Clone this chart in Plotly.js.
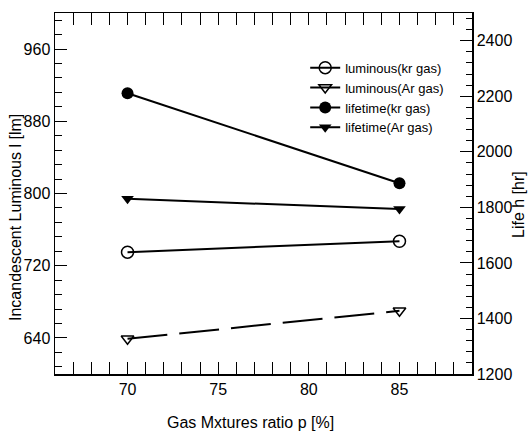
<!DOCTYPE html>
<html>
<head>
<meta charset="utf-8">
<script src="https://cdn.plot.ly/plotly-3.0.1.min.js"></script>
<style>html,body{margin:0;padding:0;background:#fff;}#chart{width:530px;height:434px;}</style>
</head>
<body>
<div id="chart"></div>
<script>
const ratio = [70, 85];
const luminousKr = [735, 747];
const luminousAr = [639, 670];
const lifetimeKr = [2211, 1887];
const lifetimeAr = [1831, 1794];
const seriesNames = ['luminous(kr gas)', 'luminous(Ar gas)', 'lifetime(kr gas)', 'lifetime(Ar gas)'];

const FONT = 'Liberation Sans Narrow, Arial Narrow, Liberation Sans, Arial, sans-serif';

const traces = [
  {x: ratio, y: luminousKr, name: seriesNames[0], type: 'scatter', mode: 'lines+markers', yaxis: 'y',
   line: {color: '#000', width: 2},
   marker: {symbol: 'circle-open', size: 12, color: '#000', line: {width: 1.5, color: '#000'}}},
  {x: ratio, y: luminousAr, name: seriesNames[1], type: 'scatter', mode: 'lines+markers', yaxis: 'y',
   line: {color: '#000', width: 2, dash: '40px,12px'},
   marker: {symbol: 'triangle-down-open', size: 11, color: '#000', line: {width: 1.5, color: '#000'}}},
  {x: ratio, y: lifetimeKr, name: seriesNames[2], type: 'scatter', mode: 'lines+markers', yaxis: 'y2',
   line: {color: '#000', width: 2},
   marker: {symbol: 'circle', size: 12, color: '#000'}},
  {x: ratio, y: lifetimeAr, name: seriesNames[3], type: 'scatter', mode: 'lines+markers', yaxis: 'y2',
   line: {color: '#000', width: 2},
   marker: {symbol: 'triangle-down', size: 11, color: '#000'}}
];

const layout = {
  width: 530, height: 434,
  margin: {l: 55, r: 58, t: 13, b: 60},
  paper_bgcolor: '#fff', plot_bgcolor: '#fff',
  font: {family: FONT, color: '#000', size: 16},
  showlegend: true,
  legend: {x: 0.6, y: 0.89, xanchor: 'left', yanchor: 'top', bgcolor: 'rgba(0,0,0,0)',
           font: {family: FONT, size: 13, color: '#000'}, tracegroupgap: 0, itemwidth: 30},
  xaxis: {range: [66, 89], tickvals: [70, 75, 80, 85], ticktext: ['70', '75', '80', '85'],
          ticks: 'inside', ticklen: 12, tickwidth: 1, tickcolor: '#000',
          showline: true, linecolor: '#000', linewidth: 1.5, mirror: 'allticks',
          showgrid: false, zeroline: false,
          minor: {ticks: 'inside', ticklen: 6, dtick: 1, tick0: 66, tickwidth: 1, tickcolor: '#000', showgrid: false},
          tickfont: {family: FONT, size: 16}},
  yaxis: {range: [600, 1000], tickvals: [640, 720, 800, 880, 960],
          ticks: 'inside', ticklen: 12, tickwidth: 1, tickcolor: '#000',
          showline: true, linecolor: '#000', linewidth: 1.5,
          showgrid: false, zeroline: false,
          minor: {ticks: 'inside', ticklen: 7, dtick: 16, tick0: 608, tickwidth: 1, tickcolor: '#000', showgrid: false},
          tickfont: {family: FONT, size: 16}},
  yaxis2: {range: [1200, 2500], tickvals: [1200, 1400, 1600, 1800, 2000, 2200, 2400],
           overlaying: 'y', side: 'right',
           ticks: 'inside', ticklen: 12, tickwidth: 1, tickcolor: '#000',
           showline: true, linecolor: '#000', linewidth: 1.5,
           showgrid: false, zeroline: false,
           minor: {ticks: 'inside', ticklen: 6, dtick: 40, tick0: 1200, tickwidth: 1, tickcolor: '#000', showgrid: false},
           tickfont: {family: FONT, size: 16}},
  annotations: [
    {text: 'Gas Mxtures ratio p [%]', xref: 'paper', yref: 'paper', x: (250 - 55) / 417, y: -(422 - 374) / 361,
     xanchor: 'center', yanchor: 'middle', showarrow: false, font: {family: FONT, size: 16}},
    {text: 'Incandescent Luminous l [lm]', xref: 'paper', yref: 'paper', x: (15 - 55) / 417, y: 1 - (218 - 13) / 361,
     xanchor: 'center', yanchor: 'middle', textangle: -90, showarrow: false, font: {family: FONT, size: 16}},
    {text: 'Life h [hr]', xref: 'paper', yref: 'paper', x: (518 - 55) / 417, y: 1 - (205 - 13) / 361,
     xanchor: 'center', yanchor: 'middle', textangle: -90, showarrow: false, font: {family: FONT, size: 16}}
  ]
};

Plotly.newPlot('chart', traces, layout, {displayModeBar: false, staticPlot: true});
</script>
</body>
</html>
